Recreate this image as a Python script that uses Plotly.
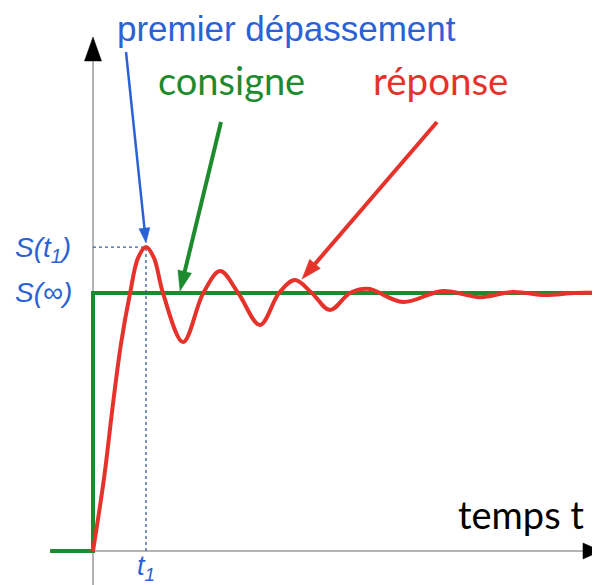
import math
import plotly.graph_objects as go

# ---------------- data ----------------
# consigne (step input): time, value
consigne_t = [-0.81, 0.0, 9.6]
consigne_v = [0.0, 1.0, 1.0]

# réponse (second-order underdamped response)
reponse_t = [0.0, 0.21, 0.38, 0.53, 0.70, 0.85, 1.00, 1.15, 1.32, 1.70, 2.08,
             2.40, 2.74, 3.15, 3.51, 3.81, 4.13, 4.47, 4.85, 5.19, 5.85,
             6.60, 7.30, 7.92, 8.53, 9.09, 9.60]
reponse_v = [0.0, 0.285, 0.575, 0.805, 1.0, 1.136, 1.178, 1.136, 1.0, 0.810, 1.0,
             1.085, 1.0, 0.876, 1.0, 1.050, 1.0, 0.934, 1.0, 1.016, 0.965,
             1.008, 0.984, 1.004, 0.992, 1.0, 1.0]

# first overshoot
t1 = 1.0
S_t1 = 1.178

# labels
label_overshoot = "premier dépassement"
label_consigne = "consigne"
label_reponse = "réponse"
label_time = "temps t"
label_St1 = "<i>S(t<sub>1</sub>)</i>"
label_Sinf = "<i>S(∞)</i>"
label_t1 = "<i>t<sub>1</sub></i>"

# ---------------- geometry ----------------
PAGE_W, PAGE_H = 600, 585
OFF = 8                        # default body margin of the html page
W, H = PAGE_W - OFF, PAGE_H - OFF
X0PX, XSCALE = 93.0, 53.0      # page pixel of t=0, pixels per time unit
Y0PX, YSCALE = 551.0, 258.0    # page pixel of v=0, pixels per value unit
x_range = [(OFF - X0PX) / XSCALE, (PAGE_W - X0PX) / XSCALE]
y_range = [(Y0PX - PAGE_H) / YSCALE, (Y0PX - OFF) / YSCALE]


def t2px(t):
    return X0PX + t * XSCALE


def v2py(v):
    return Y0PX - v * YSCALE


def px(x):
    return (x - OFF) / W


def py(y):
    return 1 - (y - OFF) / H


BLUE = "#2a62d6"
GREEN = "#1e8a2e"
RED = "#e5332c"
GRAY = "#b4b4b4"
DOT = "#3c5a96"

fig = go.Figure()

fig.add_trace(go.Scatter(x=consigne_t, y=consigne_v, mode="lines",
                         line=dict(color=GREEN, width=4, shape="hv"),
                         hoverinfo="skip"))
fig.add_trace(go.Scatter(x=[0, t1, t1], y=[S_t1, S_t1, 0], mode="lines",
                         line=dict(color=DOT, width=1.3, dash="dot"),
                         hoverinfo="skip"))
fig.add_trace(go.Scatter(x=reponse_t, y=reponse_v, mode="lines",
                         line=dict(color=RED, width=4, shape="spline", smoothing=1.0),
                         hoverinfo="skip"))

shapes = []
# axes lines
shapes.append(dict(type="line", xref="paper", yref="paper", layer="below",
                   x0=px(X0PX), y0=py(PAGE_H), x1=px(X0PX), y1=py(58),
                   line=dict(color=GRAY, width=2)))
shapes.append(dict(type="line", xref="paper", yref="paper", layer="below",
                   x0=px(50), y0=py(Y0PX), x1=px(585), y1=py(Y0PX),
                   line=dict(color=GRAY, width=2)))


def tri(points, color):
    p = "M" + " L".join(f"{px(a):.5f},{py(b):.5f}" for a, b in points) + " Z"
    return dict(type="path", xref="paper", yref="paper", path=p,
                fillcolor=color, line=dict(color=color, width=0.5))


# axis arrowheads
shapes.append(tri([(X0PX, 37), (X0PX - 8.5, 61), (X0PX + 8.5, 61)], "black"))
shapes.append(tri([(601, Y0PX), (583, Y0PX - 8), (583, Y0PX + 8)], "black"))


def arrow(x0, y0, x1, y1, color, width, hl, hw):
    dx, dy = x1 - x0, y1 - y0
    L = math.hypot(dx, dy)
    ux, uy = dx / L, dy / L
    bx, by = x1 - ux * hl, y1 - uy * hl
    shapes.append(dict(type="line", xref="paper", yref="paper",
                       x0=px(x0), y0=py(y0), x1=px(bx + ux * 2), y1=py(by + uy * 2),
                       line=dict(color=color, width=width)))
    shapes.append(tri([(x1, y1), (bx - uy * hw / 2, by + ux * hw / 2),
                       (bx + uy * hw / 2, by - ux * hw / 2)], color))


arrow(126, 52, t2px(t1), v2py(S_t1) - 4, BLUE, 2.5, 15, 11)
arrow(221, 122, 180, v2py(1.0) - 2, GREEN, 4, 20, 14)
arrow(437, 122, 302, 279, RED, 4, 20, 14)

annotations = []


def label(text, x, y, color, size, family, xanchor="left"):
    annotations.append(dict(text=text, xref="paper", yref="paper",
                            x=px(x), y=py(y), xanchor=xanchor, yanchor="middle",
                            showarrow=False,
                            font=dict(color=color, size=size, family=family)))


SANS = "Liberation Sans, Arial, sans-serif"
CAL = "Lato, Carlito, sans-serif"
label(label_overshoot, 115, 28, BLUE, 35, SANS)
label(label_consigne, 156, 80, GREEN, 38, CAL)
label(label_reponse, 371, 80, RED, 38.5, CAL)
label(label_time, 456, 514, "black", 38, CAL)
label(label_St1, 13, 249, BLUE, 28, SANS)
label(label_Sinf, 13, 292, BLUE, 28, SANS)
label(label_t1, t2px(t1), 568, BLUE, 27, SANS, xanchor="center")

fig.update_layout(
    width=W, height=H,
    margin=dict(l=0, r=0, t=0, b=0),
    paper_bgcolor="white", plot_bgcolor="white",
    showlegend=False,
    xaxis=dict(range=x_range, visible=False, fixedrange=True),
    yaxis=dict(range=y_range, visible=False, fixedrange=True),
    shapes=shapes,
    annotations=annotations,
)

fig.write_html("out.html")
